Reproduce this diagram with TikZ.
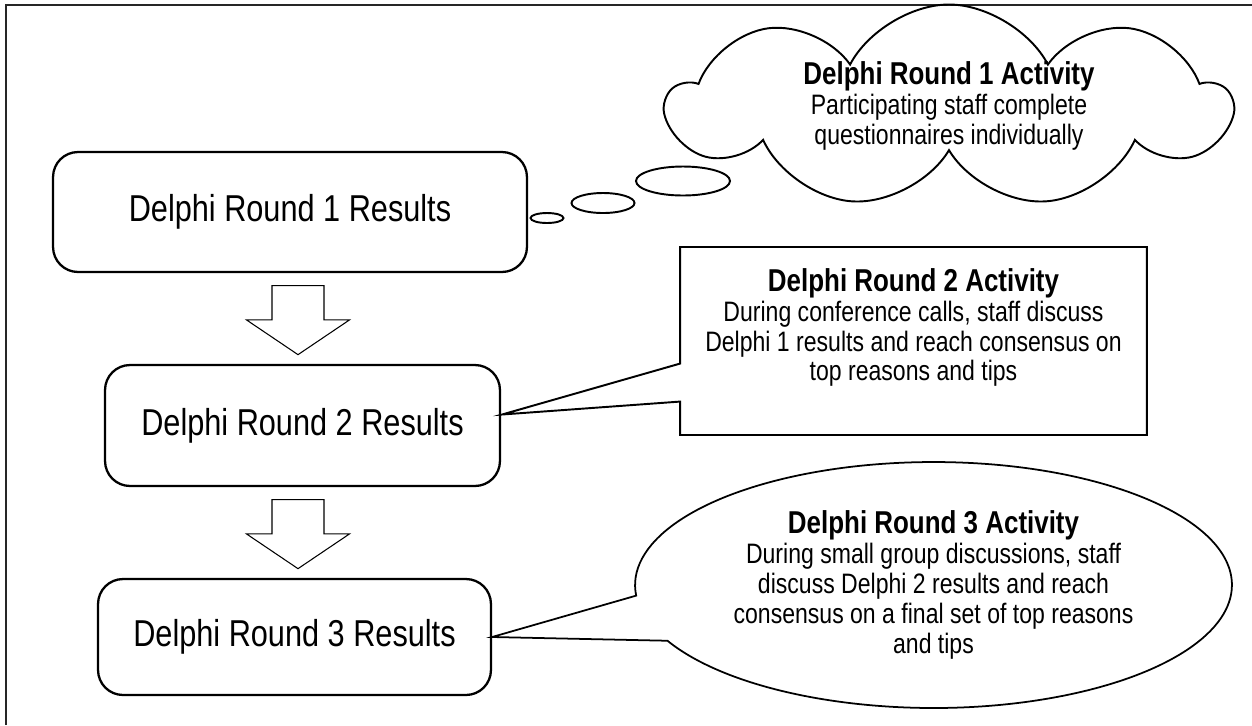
\documentclass[tikz,border=0pt]{standalone}
\usepackage{fontspec}
\setmainfont{Liberation Sans}[FakeStretch=0.82]
\usetikzlibrary{calc}
\usetikzlibrary{positioning}
\usetikzlibrary{shapes.geometric}
\usetikzlibrary{shapes.symbols}
\usetikzlibrary{shapes.callouts}
\usetikzlibrary{shapes.arrows}

\tikzset{
  result/.style={draw=black, line width=1.3pt, rounded corners=0.5cm, inner sep=0pt, font=\fontsize{21.3}{25}\selectfont},
  downarrow/.style={single arrow, draw=black, line width=0.6pt, rotate=-90, minimum height=1.38cm, anchor=tail,
    single arrow head extend=0.51cm, single arrow tip angle=112, inner xsep=0pt, inner ysep=0.51cm},
  bubble/.style={ellipse, draw=black, line width=1.1pt, inner sep=0pt},
  acttext/.style={align=center, inner sep=0pt, font=\fontsize{16}{17}\selectfont},
}
\newcommand{\acttitle}[1]{{\fontsize{18}{20}\selectfont\bfseries #1}}

\begin{document}
\begin{tikzpicture}[x=0.02cm, y=-0.02cm]
    \useasboundingbox (0,0) rectangle (1252,725);
    \draw[line width=1.2pt, black!85] (6,725) -- (6,5) -- (1252,5);

    % result boxes
    \node[result, minimum width=9.48cm, minimum height=2.4cm] (r1) at (290,212) {Delphi Round 1 Results};
    \node[result, minimum width=7.9cm, minimum height=2.42cm] (r2) at (302.5,425.5) {Delphi Round 2 Results};
    \node[result, minimum width=7.86cm, minimum height=2.32cm] (r3) at (294.5,637) {Delphi Round 3 Results};
    \node[downarrow] (a12) at ($(r1.south)+(8,12)$) {};
    \node[downarrow] (a23) at ($(r2.south)+(-4.5,12)$) {};

    % round 1: thought cloud
    \node[cloud, draw=black, line width=1.1pt, cloud puffs=9, cloud puff arc=125, cloud ignores aspect,
      minimum width=11.24cm, minimum height=3.56cm, acttext] (act1) at (949,106)
      {\acttitle{Delphi Round 1 Activity}\\Participating staff complete\\questionnaires individually};
    \node[bubble, minimum width=1.88cm, minimum height=0.58cm] (b1) at (683,181) {};
    \node[bubble, minimum width=1.26cm, minimum height=0.4cm] (b2) at (603,203) {};
    \node[bubble, minimum width=0.66cm, minimum height=0.2cm] (b3) at (547,218) {};

    % round 2: box callout
    \node[rectangle callout, draw=black, line width=1.1pt, minimum width=9.34cm, minimum height=3.76cm,
      callout absolute pointer={($(r2.east)+(1,-11)$)}, callout pointer width=0.76cm] (act2) at (913.5,341) {};
    \node[acttext, anchor=north] (act2txt) at ($(act2.north)+(0,22)$)
      {\acttitle{Delphi Round 2 Activity}\\During conference calls, staff discuss\\Delphi 1 results and reach consensus on\\top reasons and tips};

    % round 3: oval callout
    \node[ellipse callout, draw=black, line width=1pt, minimum width=11.94cm, minimum height=4.92cm,
      callout absolute pointer=(r3.east), callout pointer arc=22, acttext] (act3) at (933.5,585)
      {\acttitle{Delphi Round 3 Activity}\\During small group discussions, staff\\discuss Delphi 2 results and reach\\consensus on a final set of top reasons\\and tips};
\end{tikzpicture}
\end{document}
